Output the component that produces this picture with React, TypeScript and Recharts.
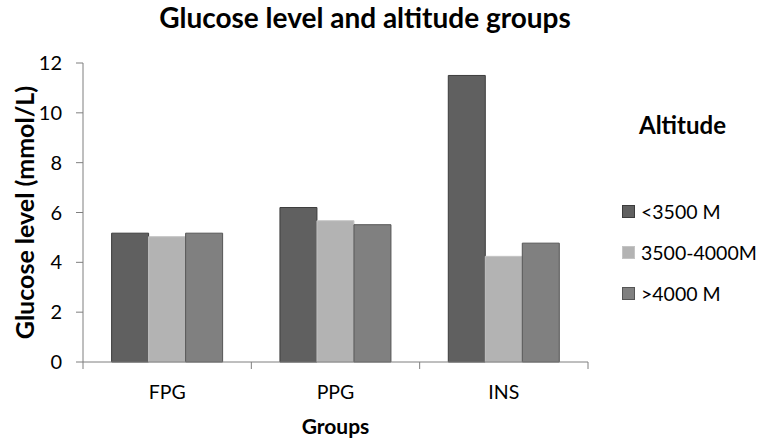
import React from 'react';
import { BarChart, Bar, XAxis, YAxis } from 'recharts';

const categories = ['FPG', 'PPG', 'INS'];
const below3500 = [5.17, 6.2, 11.5];
const mid3500to4000 = [5.03, 5.67, 4.24];
const above4000 = [5.17, 5.51, 4.77];
const yTicks = [0, 2, 4, 6, 8, 10, 12];
const seriesNames = ['<3500 M', '3500-4000M', '>4000 M'];
const seriesFill = ['#606060', '#b3b3b3', '#808080'];
const seriesStroke = ['#3c3c3c', '#c4c4c4', '#555555'];

const data = categories.map((c, i) => ({
  name: c,
  a: below3500[i],
  b: mid3500to4000[i],
  c: above4000[i],
}));

const FONT = 'Lato, "Open Sans", sans-serif';
const X_TICK_SIZE = 7;
const X_TICK_MARGIN = 16;

const CatTick = (props: any) => {
  const { x, y, payload, index, visibleTicksCount, width } = props;
  let half = payload && typeof payload.offset === 'number' && payload.offset > 0 ? payload.offset : 0;
  if (!half && width && visibleTicksCount) half = width / visibleTicksCount / 2;
  const axisY = y - X_TICK_SIZE - X_TICK_MARGIN;
  const isLast = index === (visibleTicksCount || categories.length) - 1;
  return (
    <g>
      <line x1={x - half} x2={x - half} y1={axisY} y2={axisY + X_TICK_SIZE} stroke="#7f7f7f" />
      {isLast && <line x1={x + half} x2={x + half} y1={axisY} y2={axisY + X_TICK_SIZE} stroke="#7f7f7f" />}
      <text x={x} y={y} dy="0.71em" textAnchor="middle" style={{ fontFamily: FONT, fontSize: 19.5, fill: '#000' }}>
        {payload.value}
      </text>
    </g>
  );
};

const YLabel = (props: any) => {
  const vb = props.viewBox || { x: 0, y: 63, width: 83, height: 299 };
  const cx = vb.x + 24;
  const cy = vb.y + vb.height / 2;
  return (
    <text
      x={cx}
      y={cy}
      transform={`rotate(-90 ${cx} ${cy})`}
      textAnchor="middle"
      dominantBaseline="central"
      style={{ fontFamily: FONT, fontWeight: 700, fontSize: 25, fill: '#000' }}
    >
      Glucose level (mmol/L)
    </text>
  );
};

export default function App() {
  return (
    <div style={{ position: 'absolute', left: 0, top: 0, width: 765, height: 440, background: '#fff' }}>
      <div
        style={{
          position: 'absolute',
          left: 0,
          width: 730,
          top: 0,
          textAlign: 'center',
          fontFamily: FONT,
          fontWeight: 700,
          fontSize: 28,
          color: '#000',
        }}
      >
        Glucose level and altitude groups
      </div>
      <div
        style={{
          position: 'absolute',
          left: 639,
          top: 110,
          fontFamily: FONT,
          fontWeight: 700,
          fontSize: 24,
          color: '#000',
        }}
      >
        Altitude
      </div>
      <div style={{ position: 'absolute', left: 622, top: 191, fontFamily: FONT }}>
        {seriesNames.map((n, i) => (
          <div key={n} style={{ display: 'flex', alignItems: 'center', height: 41, fontSize: 19.5, color: '#000' }}>
            <span
              style={{
                display: 'inline-block',
                width: 11,
                height: 11,
                background: seriesFill[i],
                border: '1px solid ' + seriesStroke[i],
                marginRight: 6,
              }}
            />
            {n}
          </div>
        ))}
      </div>
      <BarChart
        width={765}
        height={440}
        data={data}
        margin={{ top: 63, right: 177, left: 0, bottom: 35 }}
        barGap={0}
        barCategoryGap="17%"
      >
        <XAxis
          dataKey="name"
          axisLine={{ stroke: '#7f7f7f' }}
          tickLine={{ stroke: 'none' }}
          tickSize={X_TICK_SIZE}
          height={43}
          tickMargin={X_TICK_MARGIN}
          tick={<CatTick />}
          label={{
            value: 'Groups',
            position: 'insideBottom',
            offset: -29,
            style: { fontFamily: FONT, fontWeight: 700, fontSize: 21, fill: '#000' },
          }}
        />
        <YAxis
          width={83}
          domain={[0, 12]}
          ticks={yTicks}
          interval={0}
          tickSize={7}
          tickMargin={14}
          axisLine={{ stroke: '#7f7f7f' }}
          tickLine={{ stroke: '#7f7f7f' }}
          tick={{ fontFamily: FONT, fontSize: 20, fill: '#000' }}
          label={<YLabel />}
        />
        <Bar dataKey="a" name={seriesNames[0]} fill={seriesFill[0]} stroke={seriesStroke[0]} strokeWidth={1} isAnimationActive={false} />
        <Bar dataKey="b" name={seriesNames[1]} fill={seriesFill[1]} stroke={seriesStroke[1]} strokeWidth={1} isAnimationActive={false} />
        <Bar dataKey="c" name={seriesNames[2]} fill={seriesFill[2]} stroke={seriesStroke[2]} strokeWidth={1} isAnimationActive={false} />
      </BarChart>
    </div>
  );
}
